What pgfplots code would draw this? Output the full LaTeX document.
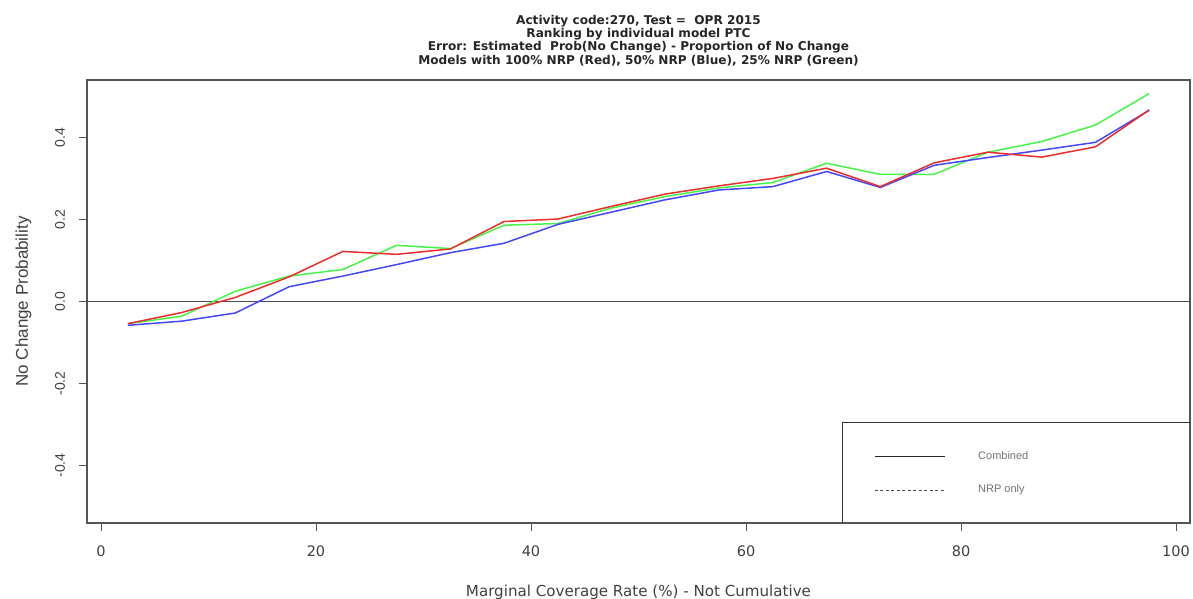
\documentclass[border=0pt]{standalone}
\usepackage{fontspec}
\setmainfont{Liberation Sans}
\newfontfamily\djv{DejaVu Sans}
\usepackage{pgfplots}
\pgfplotsset{compat=1.18}
\definecolor{rline}{RGB}{235,45,45}
\definecolor{bline}{RGB}{70,70,250}
\definecolor{gline}{RGB}{70,245,70}
\definecolor{boxc}{RGB}{85,85,85}

% marginal coverage rate (%), error for each model
\pgfplotstableread{
x     red     blue    green
2.5   -0.054  -0.058  -0.054
7.5   -0.027  -0.048  -0.036
12.5   0.010  -0.028   0.025
17.5   0.060   0.036   0.062
22.5   0.122   0.062   0.078
27.5   0.115   0.090   0.137
32.5   0.128   0.119   0.129
37.5   0.195   0.142   0.186
42.5   0.201   0.188   0.190
47.5   0.232   0.218   0.228
52.5   0.262   0.248   0.256
57.5   0.282   0.272   0.277
62.5   0.300   0.280   0.290
67.5   0.325   0.317   0.337
72.5   0.280   0.278   0.310
77.5   0.338   0.332   0.310
82.5   0.364   0.351   0.364
87.5   0.352   0.369   0.390
92.5   0.377   0.388   0.430
97.5   0.467   0.466   0.507
}\errtab

\begin{document}
\begin{tikzpicture}[x=1pt,y=1pt]
\path[use as bounding box] (0,0) rectangle (1193,599);
\begin{axis}[
  at={(87pt,76pt)}, anchor=south west,
  scale only axis, width=1103pt, height=443pt,
  xmin=-1.3, xmax=101.3, ymin=-0.54, ymax=0.54,
  axis line style={draw=boxc, line width=1.2pt},
  xtick={0,20,40,60,80,100},
  xticklabels={0,20,40,60,80,100},
  ytick={-0.4,-0.2,0,0.2,0.4},
  yticklabels={-0.4,-0.2,0.0,0.2,0.4},
  xtick pos=bottom, ytick pos=left,
  tick align=outside,
  major tick length=8pt,
  tick style={draw=boxc, line width=0.8pt},
  xticklabel style={font=\djv\fontsize{14.5}{16}\selectfont, text=black!75, anchor=base, inner sep=0pt},
  xticklabel shift=26pt,
  yticklabel style={font=\fontsize{14}{16}\selectfont, text=black!75, rotate=90, anchor=base, inner sep=0pt},
  yticklabel shift=14pt,
  xlabel={Marginal Coverage Rate (\%) - Not Cumulative},
  xlabel style={font=\djv\fontsize{15.1}{17}\selectfont, text=black!75, at={(axis description cs:0.5,0)}, anchor=base, inner sep=0pt, yshift=-73pt},
  ylabel={No Change Probability},
  ylabel style={font=\fontsize{17}{19}\selectfont, text=black!75, at={(axis description cs:-0.0535,0.5)}, rotate=0, anchor=base, inner sep=0pt},
  title={Activity code:270, Test =\ \ OPR 2015\\Ranking by individual model PTC\\Error: Estimated\ \ Prob(No Change) - Proportion of No Change\\Models with 100\% NRP (Red), 50\% NRP (Blue), 25\% NRP (Green)},
  title style={font=\djv\bfseries\fontsize{12.1}{13.3}\selectfont, text=black!85, align=center, at={(axis description cs:0.5,1)}, anchor=south, inner sep=0pt, yshift=8pt},
  clip=false,
]
\addplot[black!70, line width=1.8pt] coordinates {(-1.3,0) (101.3,0)};
\addplot[gline, line width=1.5pt] table[x=x, y=green] {\errtab};
\addplot[bline, line width=1.5pt] table[x=x, y=blue] {\errtab};
\addplot[rline, line width=1.5pt] table[x=x, y=red] {\errtab};
% legend box
\draw[black!80, line width=0.9pt] (rel axis cs:0.6845,0) -- (rel axis cs:0.6845,0.228) -- (rel axis cs:1,0.228);
\draw[black!85, line width=0.9pt] (rel axis cs:0.7144,0.1512) -- (rel axis cs:0.7779,0.1512);
\draw[black!70, line width=0.7pt, dash pattern=on 3pt off 2.5pt] (rel axis cs:0.7144,0.0745) -- (rel axis cs:0.7779,0.0745);
\node[anchor=west, font=\fontsize{11}{12}\selectfont, text=black!55, inner sep=0pt] at (rel axis cs:0.8078,0.1512) {Combined};
\node[anchor=west, font=\fontsize{11}{12}\selectfont, text=black!55, inner sep=0pt] at (rel axis cs:0.8078,0.0745) {NRP only};
\end{axis}
\end{tikzpicture}
\end{document}
